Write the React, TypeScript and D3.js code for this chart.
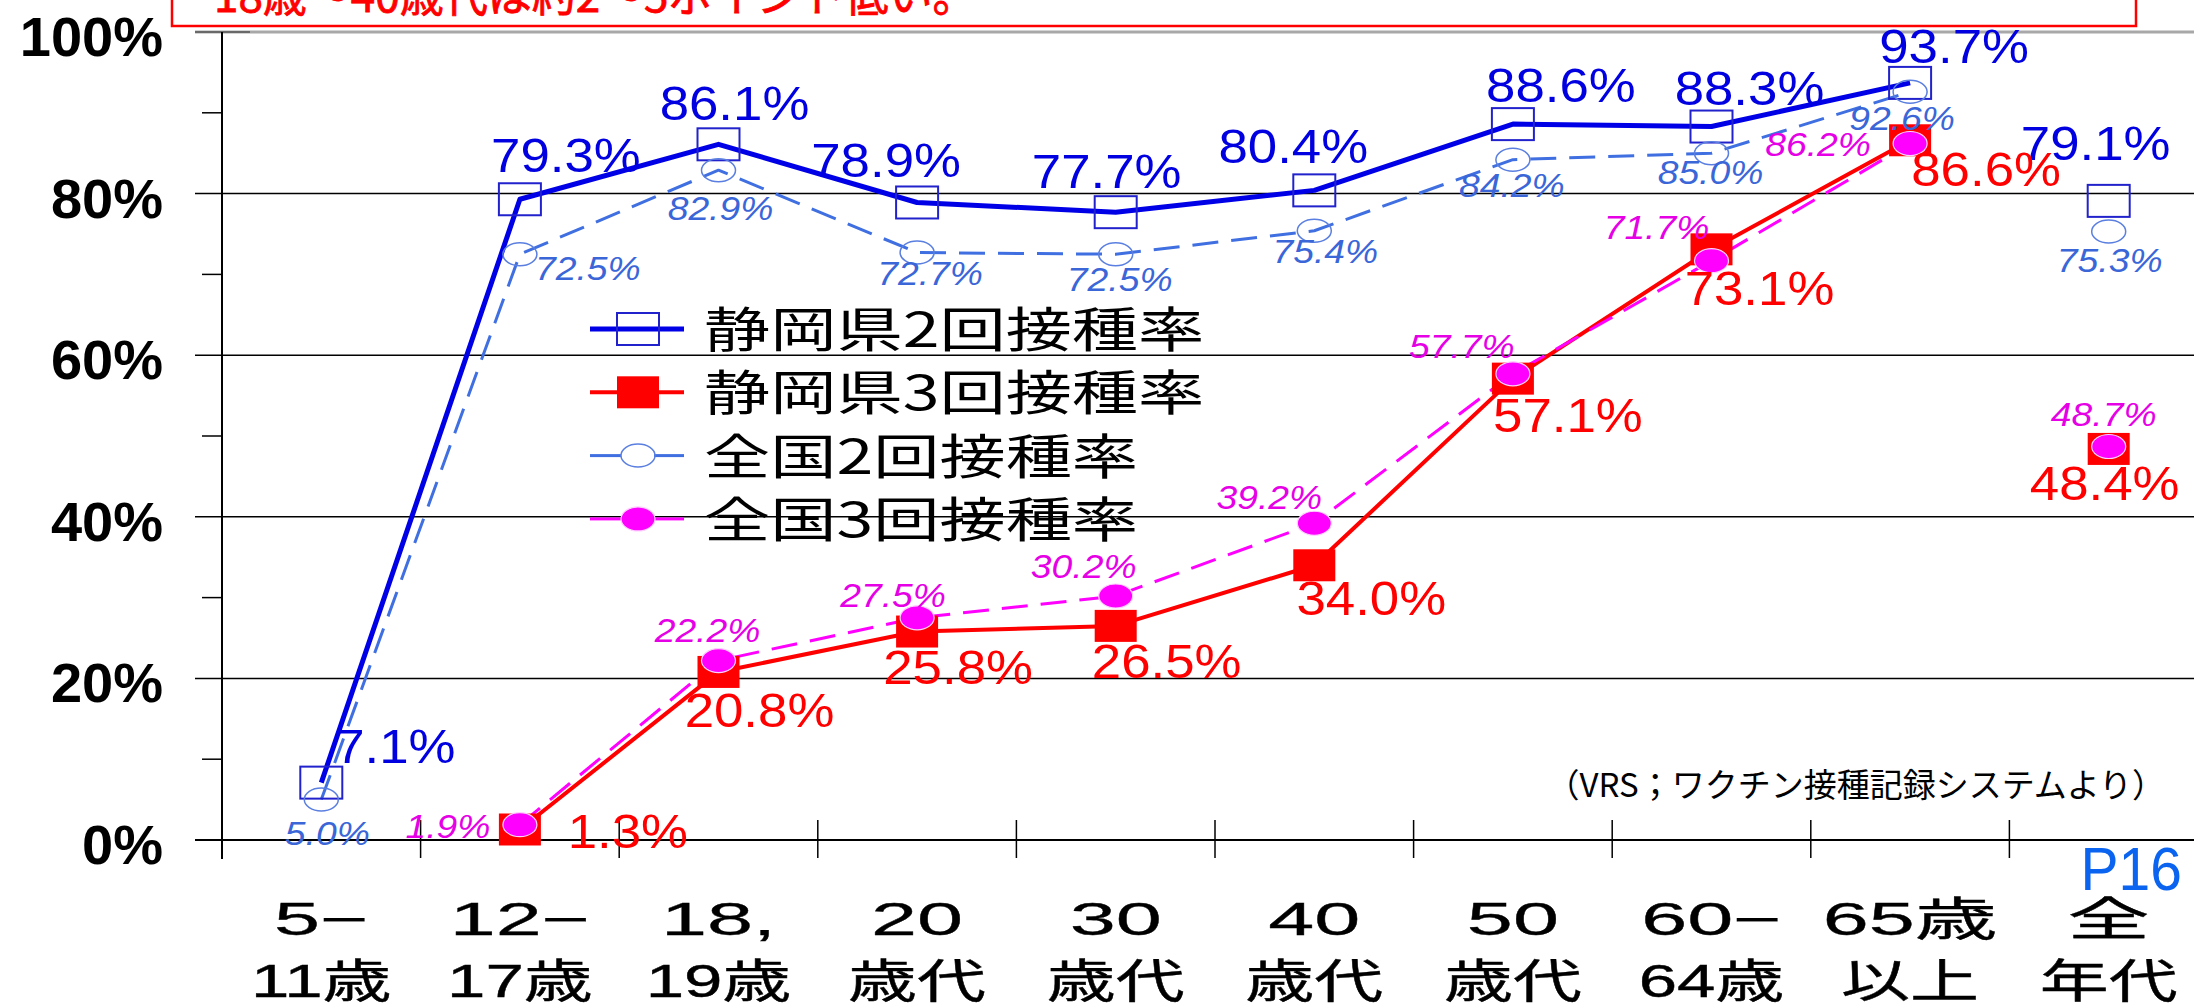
import React from "react";
import * as d3 from "d3";

// age groups on the x axis (the last one is the all-ages summary, not joined by the lines)
const categories = ["5-11", "12-17", "18-19", "20s", "30s", "40s", "50s", "60-64", "65+", "all"];
const catLine1 = ["5−", "12−", "18,", "20", "30", "40", "50", "60−", "65歳", "全"];
const catLine2 = ["11歳", "17歳", "19歳", "歳代", "歳代", "歳代", "歳代", "64歳", "以上", "年代"];
const joinedCount = 9;

// vaccination rates (%)
const pref2 = [7.1, 79.3, 86.1, 78.9, 77.7, 80.4, 88.6, 88.3, 93.7, 79.1];
const pref3 = [null, 1.3, 20.8, 25.8, 26.5, 34.0, 57.1, 73.1, 86.6, 48.4];
const nat2 = [5.0, 72.5, 82.9, 72.7, 72.5, 75.4, 84.2, 85.0, 92.6, 75.3];
const nat3 = [null, 1.9, 22.2, 27.5, 30.2, 39.2, 57.7, 71.7, 86.2, 48.7];

const yTicks = [0, 20, 40, 60, 80, 100];
const yMinor = [10, 30, 50, 70, 90];

const titleText = "18歳～40歳代は約2～5ポイント低い。";
const sourceText = "（VRS；ワクチン接種記録システムより）";
const pageText = "P16";

// label nudges from each marker [dx, dy]
const pref2Off = [[74, -20], [46, -27], [16, -24], [-31, -25], [-9, -24], [-21, -27], [48, -22], [38, -22], [44, -20], [-13, -41]];
const pref3Off = [[0, 0], [108, 19], [41, 55], [41, 52], [51, 52], [57, 50], [55, 53], [48, 56], [76, 46], [-4, 51]];
const nat2Off = [[6, 45], [68, 26], [2, 50], [13, 32], [4, 37], [11, 32], [-1, 37], [-1, 31], [-8, 38], [1, 40]];
const nat3Off = [[0, 0], [-72, 13], [-11, -19], [-24, -11], [-32, -18], [-45, -14], [-51, -16], [-55, -22], [-92, 12], [-5, -21]];

const W = 2194, H = 1006;
const SANS = "'Liberation Sans', Arial, 'Noto Sans CJK JP', sans-serif";
const CJK = "'Noto Sans CJK JP', 'Noto Sans CJK SC', sans-serif";

type Marker = "openRect" | "fillRect" | "openCircle" | "fillCircle";

const series = [
  { name: "静岡県2回接種率", values: pref2, off: pref2Off, color: "#0000e6", width: 5, dash: "", marker: "openRect" as Marker, labelColor: "#0000e0", big: true },
  { name: "静岡県3回接種率", values: pref3, off: pref3Off, color: "#ff0000", width: 4, dash: "", marker: "fillRect" as Marker, labelColor: "#ff0000", big: true },
  { name: "全国2回接種率", values: nat2, off: nat2Off, color: "#3f6fe0", width: 3, dash: "26 13", marker: "openCircle" as Marker, labelColor: "#3a66d8", big: false },
  { name: "全国3回接種率", values: nat3, off: nat3Off, color: "#ff00ff", width: 3, dash: "26 13", marker: "fillCircle" as Marker, labelColor: "#e600e6", big: false },
];

const x = d3.scaleBand<string>().domain(categories).range([222, 222 + 198.6 * categories.length]);
const xc = (i: number) => x(categories[i])! + x.bandwidth() / 2;
const y = d3.scaleLinear().domain([0, 100]).range([840, 32]);

const StretchText = ({ x, y, sx, children, ...rest }: any) => (
  <text transform={`translate(${x},${y}) scale(${sx},1)`} {...rest}>
    {children}
  </text>
);

const drawMarker = (m: Marker, cx: number, cy: number, color: string, key: string) => {
  if (m === "openRect")
    return <rect key={key} x={cx - 21} y={cy - 16} width={42} height={32} fill="none" stroke="#2222cc" strokeWidth={2} />;
  if (m === "fillRect")
    return <rect key={key} x={cx - 21} y={cy - 16} width={42} height={32} fill={color} />;
  if (m === "openCircle")
    return <ellipse key={key} cx={cx} cy={cy} rx={17} ry={11.5} fill="none" stroke="#5a7fe0" strokeWidth={1.5} />;
  return <ellipse key={key} cx={cx} cy={cy} rx={17} ry={12} fill={color} stroke="#ffd0ff" strokeWidth={1.2} />;
};

const App: React.FC = () => {
  const line = d3
    .line<number | null>()
    .defined((d) => d !== null)
    .x((_, i) => xc(i))
    .y((d) => y(d as number));

  const xTickPos = d3.range(1, categories.length).map((i) => x(categories[i])!);

  return (
    <svg width={W} height={H} style={{ position: "absolute", left: 0, top: 0, background: "#fff" }}>
      <rect width={W} height={H} fill="#fff" />

      {/* title box, cut off by the top edge */}
      <rect x={172} y={-80} width={1964} height={106} fill="#fff" stroke="#ff0000" strokeWidth={2.5} />
      <text x={214} y={12} fill="#ff0000" stroke="#ff0000" strokeWidth={0.8} fontSize={44} fontFamily={CJK}>
        {titleText}
      </text>

      {/* grid */}
      {yTicks.map((t) =>
        t === 100 ? (
          <g key={t}>
            <line x1={195} x2={W} y1={y(t)} y2={y(t)} stroke="#a8a8a8" strokeWidth={3} />
            <line x1={195} x2={250} y1={y(t)} y2={y(t)} stroke="#555" strokeWidth={1.5} />
          </g>
        ) : (
          <line key={t} x1={195} x2={W} y1={y(t)} y2={y(t)} stroke="#000" strokeWidth={t === 0 ? 2 : 1.5} />
        )
      )}
      {yMinor.map((t) => (
        <line key={t} x1={202} x2={222} y1={y(t)} y2={y(t)} stroke="#000" strokeWidth={1.5} />
      ))}
      <line x1={222} x2={222} y1={y(100)} y2={859} stroke="#000" strokeWidth={2} />
      {xTickPos.map((p, i) => (
        <line key={i} x1={p} x2={p} y1={820} y2={858} stroke="#000" strokeWidth={1.5} />
      ))}

      {/* y labels */}
      {yTicks.map((t) => (
        <text key={t} x={163} y={y(t) + 24} textAnchor="end" fontSize={56} fontWeight={700} fontFamily={SANS} fill="#000">
          {t}%
        </text>
      ))}

      {/* x labels */}
      {categories.map((c, i) => (
        <g key={c}>
          <StretchText x={xc(i)} y={935} sx={1.8} textAnchor="middle" fontSize={46} fontFamily={SANS} fill="#000" stroke="#000" strokeWidth={0.3}>
            {catLine1[i]}
          </StretchText>
          <StretchText x={xc(i)} y={997} sx={1.5} textAnchor="middle" fontSize={46} fontFamily={SANS} fill="#000" stroke="#000" strokeWidth={0.4}>
            {catLine2[i]}
          </StretchText>
        </g>
      ))}

      {/* series lines */}
      {series.map((s) => (
        <path
          key={s.name}
          d={line(s.values.slice(0, joinedCount)) || ""}
          fill="none"
          stroke={s.color}
          strokeWidth={s.width}
          strokeDasharray={s.dash || undefined}
          strokeLinejoin="round"
        />
      ))}

      {/* markers */}
      {series.map((s) =>
        s.values.map((v, i) => (v === null ? null : drawMarker(s.marker, xc(i), y(v), s.color, `${s.name}-${i}`)))
      )}

      {/* value labels */}
      {series.map((s) =>
        s.values.map((v, i) =>
          v === null ? null : (
            <StretchText
              key={`${s.name}-l${i}`}
              x={xc(i) + s.off[i][0]}
              y={y(v) + s.off[i][1]}
              sx={s.big ? 1.1 : 1.13}
              textAnchor="middle"
              fontSize={s.big ? 48 : 33}
              fontStyle={s.big ? "normal" : "italic"}
              fontFamily={SANS}
              fill={s.labelColor}
            >
              {v.toFixed(1)}%
            </StretchText>
          )
        )
      )}

      {/* legend */}
      {series.map((s, i) => {
        const ly = 329 + i * 63.3;
        const dashed = !!s.dash;
        return (
          <g key={s.name}>
            {dashed ? (
              <>
                <line x1={590} x2={621} y1={ly} y2={ly} stroke={s.color} strokeWidth={s.width} />
                <line x1={654} x2={684} y1={ly} y2={ly} stroke={s.color} strokeWidth={s.width} />
              </>
            ) : (
              <line x1={590} x2={684} y1={ly} y2={ly} stroke={s.color} strokeWidth={s.width} />
            )}
            {drawMarker(s.marker, 638, ly, s.color, `lg-${i}`)}
            <StretchText x={704} y={ly + 18} sx={1.38} fontSize={48} fontFamily={CJK} fill="#000">
              {s.name}
            </StretchText>
          </g>
        );
      })}

      {/* source note and page number */}
      <text x={2165} y={797} textAnchor="end" fontSize={33} fontFamily={CJK} fill="#000">
        {sourceText}
      </text>
      <StretchText x={2182} y={890} sx={0.92} textAnchor="end" fontSize={62} fontFamily={SANS} fill="#0a64f0">
        {pageText}
      </StretchText>
    </svg>
  );
};

export default App;
